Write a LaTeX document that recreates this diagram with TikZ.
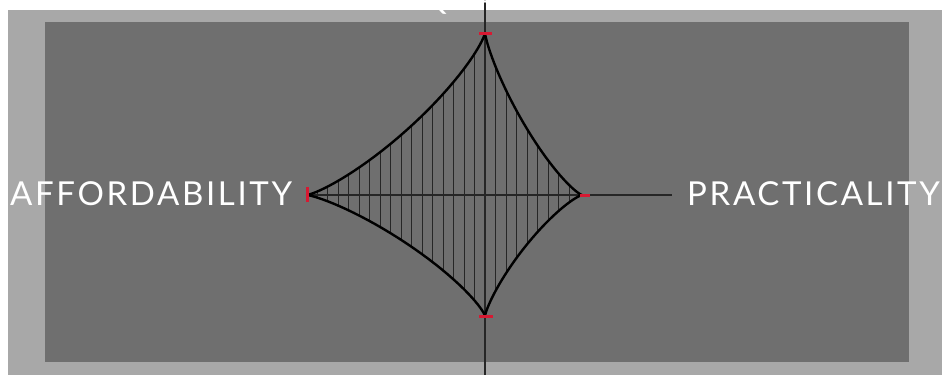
\documentclass[tikz,border=0pt]{standalone}
\usepackage{fontspec}
\setsansfont{Lato}[LetterSpace=8]
\definecolor{framegray}{RGB}{168,168,168}
\definecolor{panelgray}{RGB}{111,111,111}
\definecolor{axisgray}{RGB}{38,38,38}
\definecolor{tipred}{RGB}{215,25,50}
\newcommand{\starpath}{%
  plot[variable=\t,domain=0:90,samples=40] ({485+97*pw(cos(\t))},{195-162*pw(sin(\t))})
  -- plot[variable=\t,domain=0:90,samples=40] ({485-178*pw(sin(\t))},{195-162*pw(cos(\t))})
  -- plot[variable=\t,domain=0:90,samples=40] ({485-178*pw(cos(\t))},{195+121*pw(sin(\t))})
  -- plot[variable=\t,domain=0:90,samples=40] ({485+97*pw(sin(\t))},{195+121*pw(cos(\t))})
  -- cycle}

\begin{document}
\begin{tikzpicture}[x=1pt,y=-1pt,
  declare function={pw(\u)=\u*\u*sqrt(abs(\u));},
  label/.style={text=white,font=\sffamily\fontsize{33}{33}\selectfont,inner sep=0pt},
  axis/.style={axisgray,line width=2pt},
  hatch/.style={black!85,line width=0.9pt},
  tip/.style={tipred,line width=3pt}]
  \useasboundingbox (0,0) rectangle (942,375);
  \fill[white] (0,0) rectangle (942,375);
  \fill[framegray] (8,10) rectangle (942,375);
  \fill[panelgray] (45,22) rectangle (909,362);
  % axes
  \coordinate (C) at (485,195);
  \coordinate (L) at (307,195);
  \coordinate (R) at (582,195);
  \coordinate (T) at (485,33);
  \coordinate (B) at (485,316);
  \coordinate (Vtop) at (485,0);
  \coordinate (Vbot) at (485,375);
  \coordinate (Hend) at (672,195);
  \draw[axis] (Vtop) -- (Vbot);
  \draw[axis] (L) -- (Hend);
  % hatched star
  \begin{scope}
    \clip \starpath;
    \foreach \k in {-16,...,9}
      \draw[hatch] (485+10.5*\k,20) -- (485+10.5*\k,330);
  \end{scope}
  \draw[black,line width=2.4pt,line join=round] \starpath;
  % red tips
  \draw[tip] ([yshift=-7pt]L) -- ([yshift=8pt]L);
  \draw[tip] ([xshift=-6pt]T) -- ([xshift=7pt]T);
  \draw[tip] ([xshift=-2pt]R) -- ([xshift=8pt]R);
  \draw[tip] ([xshift=-6pt]B) -- ([xshift=8pt]B);
  % labels
  \node[label,anchor=base west] (afford) at (10,205) {AFFORDABILITY};
  \node[label,anchor=base west] (pract) at (687,205) {PRACTICALITY};
  \node[label,anchor=base] (qual) at (498,9) {QUALITY};
\end{tikzpicture}
\end{document}
